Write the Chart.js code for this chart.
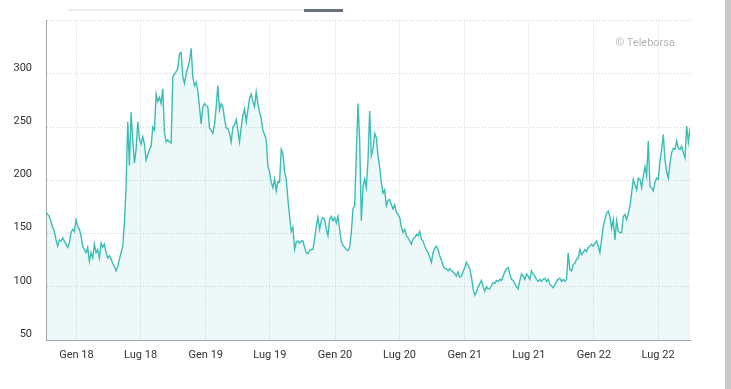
<!DOCTYPE html>
<html>
<head>
<meta charset="utf-8">
<script src="https://cdn.jsdelivr.net/npm/chart.js@4.4.0/dist/chart.umd.min.js"></script>
<style>
    html, body { margin: 0; padding: 0; background: #fff; }
    #wrap { position: relative; width: 731px; height: 389px; overflow: hidden; }
    #chart { position: absolute; left: 0; top: 0; }
    .nav-track { position: absolute; left: 68px; top: 9px; width: 236px; height: 2px; background: #ececec; }
    .nav-thumb { position: absolute; left: 304px; top: 9px; width: 39px; height: 3px; background: #6b717b; }
    .scrollbar { position: absolute; left: 725px; top: 0; width: 6px; height: 389px; background: #c9c9c9; }
</style>
</head>
<body>
<div id="wrap">
    <canvas id="chart" width="731" height="389"></canvas>
    <div class="nav-track"></div>
    <div class="nav-thumb"></div>
    <div class="scrollbar"></div>
</div>
<script>
// sampling of the series: first quote and spacing between quotes
const startDate = Date.UTC(2017, 9, 7);
const stepDays = 4.71;

const prices = [
    170, 168, 166, 161, 156, 152, 144, 138, 144, 143,
    146, 143, 140, 137, 141, 151, 154, 152, 163, 157,
    154, 148, 138, 135, 132, 137, 124, 132, 127, 140,
    132, 135, 127, 141, 137, 140, 132, 127, 129, 126,
    122, 119, 115, 119, 126, 132, 138, 160, 194, 255,
    214, 264, 238, 216, 229, 255, 239, 234, 241, 234,
    219, 224, 229, 232, 250, 247, 281, 274, 278, 272,
    286, 245, 236, 238, 236, 235, 297, 300, 302, 305,
    319, 320, 297, 291, 300, 306, 312, 324, 297, 289,
    292, 284, 269, 253, 269, 272, 270, 269, 249, 247,
    // 2019
    244, 252, 269, 289, 266, 272, 269, 258, 249, 249,
    244, 236, 250, 252, 257, 247, 236, 250, 261, 267,
    255, 266, 277, 281, 274, 269, 283, 272, 264, 258,
    247, 243, 238, 213, 208, 198, 193, 201, 190, 199,
    198, 229, 225, 208, 201, 182, 166, 152, 156, 135,
    142, 143, 141, 143, 143, 137, 132, 131, 134, 135,
    135, 145, 157, 165, 154, 162, 165, 163, 154, 148,
    163, 166, 162, 165, 160, 166, 154, 142, 139, 137,
    135, 134, 137, 151, 173, 176, 225, 272, 238, 162,
    194, 201, 193, 219, 265,
    // 2020
    223, 229, 244, 240, 223, 212, 198, 188, 191, 176,
    181, 182, 177, 173, 177, 170, 168, 165, 156, 151,
    154, 148, 146, 143, 140, 145, 146, 149, 148, 152,
    145, 143, 138, 135, 132, 128, 123, 132, 136, 138,
    135, 129, 125, 120, 117, 117, 115, 117, 115, 114,
    112, 110, 114, 109, 110, 114, 118, 123, 120, 117,
    109, 98, 92, 95, 100, 103, 106, 100, 96, 100,
    98, 98, 101, 104, 103, 106, 105, 107, 106, 110,
    114, 117, 118, 112, 107, 106, 103, 100, 98, 106,
    112, 110, 107, 112, 110, 107,
    // 2021 - 2022
    115, 112, 110, 107, 105, 107, 105, 107, 108, 105,
    107, 102, 101, 99, 102, 105, 107, 108, 105, 107,
    105, 107, 132, 116, 115, 121, 122, 126, 127, 135,
    130, 132, 135, 133, 137, 138, 140, 138, 141, 143,
    138, 132, 144, 157, 163, 169, 171, 166, 155, 163,
    144, 162, 152, 151, 151, 166, 168, 163, 169, 176,
    188, 201, 196, 191, 202, 201, 193, 204, 213, 204,
    237, 194, 193, 190, 198, 202, 201, 218, 229, 243,
    219, 208, 202, 216, 226, 230, 229, 237, 230, 229,
    232, 226, 221, 251, 236, 249
];

const tickDates = ['2018-01-01', '2018-07-01', '2019-01-01', '2019-07-01', '2020-01-01',
    '2020-07-01', '2021-01-01', '2021-07-01', '2022-01-01', '2022-07-01'];
const tickLabels = ['Gen 18', 'Lug 18', 'Gen 19', 'Lug 19', 'Gen 20',
    'Lug 20', 'Gen 21', 'Lug 21', 'Gen 22', 'Lug 22'];

const DAY = 86400000;
const points = prices.map((v, i) => ({ x: startDate + i * stepDays * DAY, y: v }));

const tickFont = { family: 'Roboto, "Liberation Sans", sans-serif', size: 11 };

const watermark = {
    id: 'watermark',
    afterDatasetsDraw(chart) {
        const { ctx, chartArea } = chart;
        ctx.save();
        ctx.font = '11px Roboto, sans-serif';
        ctx.fillStyle = '#b4b4b4';
        ctx.textAlign = 'right';
        ctx.textBaseline = 'middle';
        ctx.fillText('© Teleborsa', chartArea.right - 15, chartArea.top + 23);
        ctx.restore();
    }
};

new Chart(document.getElementById('chart').getContext('2d'), {
    type: 'line',
    data: {
        datasets: [{
            data: points,
            borderColor: '#3bbdb6',
            backgroundColor: 'rgba(59, 189, 182, 0.09)',
            borderWidth: 1.4,
            pointRadius: 0,
            tension: 0,
            fill: 'start'
        }]
    },
    options: {
        responsive: false,
        animation: false,
        layout: { padding: { top: 20, right: 41, left: 0, bottom: 0 } },
        plugins: {
            legend: { display: false },
            tooltip: { enabled: false }
        },
        scales: {
            x: {
                type: 'linear',
                min: points[0].x,
                max: points[points.length - 1].x,
                afterBuildTicks: axis => { axis.ticks = tickDates.map(d => ({ value: Date.parse(d) })); },
                afterFit: axis => { axis.height = 49; },
                grid: { color: '#d4d4d4', drawTicks: false },
                border: { display: true, color: '#a8a8a8', dash: [1, 2] },
                ticks: {
                    padding: 9,
                    autoSkip: false,
                    maxRotation: 0,
                    color: '#333',
                    font: tickFont,
                    callback: (v, i) => tickLabels[i]
                }
            },
            y: {
                min: 50,
                max: 350,
                afterFit: axis => { axis.width = 46; },
                grid: { color: '#d4d4d4', drawTicks: false },
                border: { display: true, color: '#a8a8a8', dash: [1, 2] },
                ticks: {
                    stepSize: 50,
                    padding: 14,
                    labelOffset: -6,
                    color: '#333',
                    font: tickFont,
                    callback: v => (v === 350 ? '' : v)
                }
            }
        }
    },
    plugins: [watermark]
});
</script>
</body>
</html>
